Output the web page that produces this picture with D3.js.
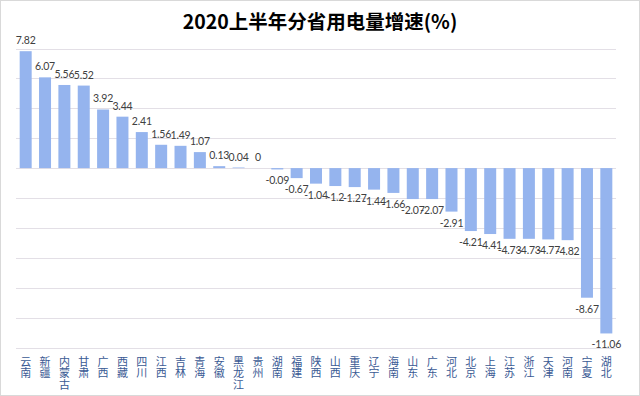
<!DOCTYPE html>
<html><head><meta charset="utf-8">
<script src="https://cdn.jsdelivr.net/npm/d3@7"></script>
<style>body{margin:0;background:#fff}svg{display:block}</style>
</head><body>
<script>
const title = "2020上半年分省用电量增速(%)";
const provinces = ["云南","新疆","内蒙古","甘肃","广西","西藏","四川","江西","吉林","青海","安徽","黑龙江","贵州","湖南","福建","陕西","山西","重庆","辽宁","海南","山东","广东","河北","北京","上海","江苏","浙江","天津","河南","宁夏","湖北"];
const growth = [7.82,6.07,5.56,5.52,3.92,3.44,2.41,1.56,1.49,1.07,0.13,0.04,0,-0.09,-0.67,-1.04,-1.2,-1.27,-1.44,-1.66,-2.07,-2.07,-2.91,-4.21,-4.41,-4.73,-4.73,-4.77,-4.82,-8.67,-11.06];
const gridTicks = [-12,-10,-8,-6,-4,-2,0,2,4,6,8];

const W = 640, H = 396;
const svg = d3.select("body").append("svg").attr("width", W).attr("height", H);
svg.append("rect").attr("x",0.5).attr("y",0.5).attr("width",W-1).attr("height",H-1)
  .attr("fill","#fff").attr("stroke","#d9d9d9");

const x = d3.scaleBand().domain(provinces).range([16,616]).paddingInner(0.38).paddingOuter(0.19);
const y = d3.scaleLinear().domain([-12,8]).range([347.5,48.5]);

svg.append("g").selectAll("line").data(gridTicks).join("line")
  .attr("x1",16).attr("x2",616)
  .attr("y1",d=>Math.round(y(d))+0.5).attr("y2",d=>Math.round(y(d))+0.5)
  .attr("stroke","#e3dfe6").attr("stroke-width",1);

svg.append("g").selectAll("rect").data(provinces).join("rect")
  .attr("x",d=>x(d))
  .attr("width",x.bandwidth())
  .attr("y",(d,i)=>Math.min(y(growth[i]),y(0)))
  .attr("height",(d,i)=>Math.abs(y(growth[i])-y(0)))
  .attr("fill","#95b4ee");

svg.append("g").selectAll("text").data(provinces).join("text")
  .attr("x",d=>x(d)+x.bandwidth()/2)
  .attr("y",(d,i)=>growth[i]>=0 ? y(growth[i])-7 : y(growth[i])+15)
  .attr("text-anchor","middle")
  .attr("font-family","Lato,'Open Sans',sans-serif")
  .attr("font-size",10.5)
  .style("letter-spacing","-0.2px")
  .attr("fill","#404040")
  .text((d,i)=>String(growth[i]));

svg.append("g").selectAll("text").data(provinces).join("text")
  .attr("x",d=>x(d)+x.bandwidth()/2)
  .attr("y",356)
  .attr("text-anchor","start")
  .style("writing-mode","vertical-rl")
  .style("text-orientation","upright")
  .style("letter-spacing","0.5px")
  .attr("font-family","'Noto Sans CJK SC',sans-serif")
  .attr("font-size",11)
  .attr("fill","#3a5a94")
  .text(d=>d);

svg.append("text").attr("x",320).attr("y",29).attr("text-anchor","middle")
  .attr("font-family","'Noto Sans CJK SC',sans-serif").attr("font-weight","bold")
  .attr("font-size",19.5).attr("fill","#000").text(title);
</script>
</body></html>
